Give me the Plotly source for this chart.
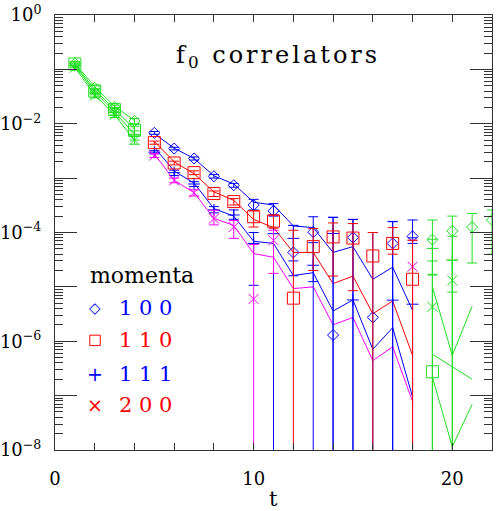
import plotly.graph_objects as go

# time slices
t_mid = [5, 6, 7, 8, 9, 10, 11, 12, 13, 14, 15, 16, 17, 18]
t_green = [1, 2, 3, 4, 19, 20, 21, 22]
t_green_late = [19, 20, 21]

# momentum 1 0 0 (blue diamonds)
p100_y = [6.8e-3, 3.5e-3, 2.3e-3, 1.08e-3, 7.4e-4, 3.2e-4, 2.5e-4, 4.3e-5, 1.02e-4, 1.3e-6, 8.1e-5, 2.75e-6, 6.3e-5, 8.5e-5]
p100_hi = [7.2e-3, 3.7e-3, 2.45e-3, 1.17e-3, 8.0e-4, 4.07e-4, 3.4e-4, 1.35e-4, 1.95e-4, 1.9e-4, 1.74e-4, 1.0e-4, 1.58e-4, 1.7e-4]
p100_lo = [6.4e-3, 3.3e-3, 2.15e-3, 1.0e-3, 6.8e-4, 2.6e-4, 2.1e-4, 1.6e-5, 0, 0, 0, 0, 0, 6.3e-5]
p100_fit = [6.6e-3, 3.55e-3, 2.3e-3, 1.1e-3, 7.8e-4, 3.6e-4, 3.2e-4, 1.32e-4, 1.23e-4, 4.3e-5, 5.5e-5, 1.38e-5, 2.3e-5, 3.7e-6]

# momentum 1 1 0 (red squares)
p110_y = [4.5e-3, 1.9e-3, 1.26e-3, 5.2e-4, 3.7e-4, 1.95e-4, 1.62e-4, 6.2e-6, 5.5e-5, 8.3e-5, 7.9e-5, 3.7e-5, 6.3e-5, 1.38e-5]
p110_hi = [4.8e-3, 2.05e-3, 1.36e-3, 5.8e-4, 4.2e-4, 2.5e-4, 2.1e-4, 1.1e-4, 1.18e-4, 1.5e-4, 1.46e-4, 1.0e-4, 1.23e-4, 7.2e-5]
p110_lo = [4.2e-3, 1.75e-3, 1.16e-3, 4.6e-4, 3.2e-4, 1.26e-4, 1.2e-4, 0, 2.0e-5, 1.58e-5, 8.5e-6, 0, 4.0e-5, 0]
p110_fit = [4.7e-3, 2.0e-3, 1.2e-3, 5.6e-4, 3.9e-4, 1.74e-4, 1.23e-4, 4.3e-5, 4.3e-5, 1.15e-5, 1.58e-5, 3.2e-6, 5.5e-6, 5.5e-7]

# momentum 1 1 1 (blue pluses)
p111_y = [3.0e-3, 1.26e-3, 7.8e-4, 2.6e-4, 2.1e-4, 6.3e-5, 9.5e-5, 7.8e-5, 2.5e-5, 9.6e-5, 5.75e-6, None, 5.7e-6, 4.8e-6]
p111_hi = [3.2e-3, 1.4e-3, 8.6e-4, 3.0e-4, 2.6e-4, 1.0e-4, 2.0e-4, 1.35e-4, 6.5e-5, 1.9e-4, 1.74e-4, None, 1.6e-4, 8.0e-5]
p111_lo = [2.8e-3, 1.12e-3, 7.0e-4, 2.3e-4, 1.75e-4, 1.07e-5, 0, 3.0e-5, 1.25e-5, 0, 0, None, 0, 0]
p111_fit = [3.7e-3, 1.35e-3, 8.1e-4, 2.75e-4, 2.0e-4, 6.9e-5, 6.3e-5, 1.62e-5, 1.82e-5, 3.6e-6, 5.75e-6, 7.1e-7, 1.78e-6, 9.5e-8]

# momentum 2 0 0 (magenta crosses)
p200_y = [2.6e-3, 9.1e-4, 5.4e-4, 1.8e-4, 1.26e-4, 6.0e-6, 7.2e-5, None, None, None, None, None, None, 2.35e-5]
p200_hi = [2.8e-3, 1.0e-3, 6.1e-4, 2.57e-4, 1.66e-4, 6.0e-5, 1.1e-4, None, None, None, None, None, None, 7.2e-5]
p200_lo = [2.4e-3, 8.2e-4, 4.7e-4, 1.38e-4, 7.8e-5, 0, 1.77e-5, None, None, None, None, None, None, 0]
p200_fit = [2.8e-3, 9.1e-4, 5.4e-4, 1.82e-4, 1.35e-4, 4.1e-5, 3.5e-5, 9.3e-6, 1.0e-5, 2.0e-6, 2.75e-6, 4.4e-7, 7.9e-7, 7.8e-8]

# green points (early and late slices)
g100_y = [1.29e-1, 4.6e-2, 2.04e-2, 1.12e-2, 7.4e-5, 1.07e-4, 1.26e-4, 1.7e-4]
g100_hi = [1.4e-1, 5.0e-2, 2.2e-2, 1.25e-2, 1.7e-4, 2.0e-4, 2.24e-4, 2.6e-4]
g100_lo = [1.2e-1, 4.3e-2, 1.9e-2, 1.0e-2, 0, 0, 2.75e-5, 4.0e-5]
g110_y = [1.26e-1, 4.0e-2, 1.82e-2, 7.6e-3, 2.75e-7, None, None, None]
g110_hi = [1.36e-1, 4.4e-2, 2.0e-2, 9.0e-3, 1.7e-5, None, None, None]
g110_lo = [1.16e-1, 3.6e-2, 1.65e-2, 6.4e-3, 0, None, None, None]
g111_y = [1.17e-1, 3.7e-2, 1.62e-2, 6.2e-3, 5.1e-5, 3.1e-5, None, None]
g111_hi = [1.27e-1, 4.0e-2, 1.8e-2, 7.4e-3, 7.5e-5, 8.5e-5, None, None]
g111_lo = [1.07e-1, 3.4e-2, 1.45e-2, 5.0e-3, 1.65e-5, 8.0e-6, None, None]
g200_y = [1.07e-1, 3.3e-2, 1.45e-2, 5.0e-3, 4.3e-6, 1.32e-5, None, None]
g200_hi = [1.15e-1, 3.6e-2, 1.6e-2, 5.8e-3, 3.0e-5, 3.1e-5, None, None]
g200_lo = [0.99e-1, 3.0e-2, 1.3e-2, 4.2e-3, 0, 0, None, None]

# green fit curves
gfit_early = [
    [1.3e-1, 4.8e-2, 2.1e-2, 1.15e-2],
    [1.25e-1, 4.2e-2, 1.85e-2, 8.0e-3],
    [1.18e-1, 3.8e-2, 1.65e-2, 6.4e-3],
    [1.08e-1, 3.4e-2, 1.45e-2, 5.0e-3],
]
gfit_late = [
    [1.0e-5, 5.5e-7, 4.4e-6],
    [5.75e-7, 3.4e-7, 2.0e-7],
    [2.2e-7, 1.15e-8, 6.9e-8],
]

BLUE = '#0000ff'
RED = '#ff0000'
MAG = '#ff00ff'
GREEN = '#22dd22'
FONT = 'DejaVu Serif'


def bars(y, hi, lo):
    up = [None if v is None else h - v for v, h in zip(y, hi)]
    dn = [None if v is None else v - l for v, l in zip(y, lo)]
    return up, dn


def points(x, y, hi, lo, color, symbol, size):
    up, dn = bars(y, hi, lo)
    return go.Scatter(
        x=x, y=y, mode='markers',
        marker=dict(symbol=symbol, size=size, color=color,
                    line=dict(color=color, width=1)),
        error_y=dict(type='data', symmetric=False, array=up, arrayminus=dn,
                     color=color, thickness=1, width=5),
        hoverinfo='x+y')


def fitline(x, y, color):
    return go.Scatter(x=x, y=y, mode='lines',
                      line=dict(color=color, width=1), hoverinfo='skip')


fig = go.Figure()

for curve in gfit_early:
    fig.add_trace(fitline(t_green[:4], curve, GREEN))
for curve in gfit_late:
    fig.add_trace(fitline(t_green_late, curve, GREEN))

fig.add_trace(fitline(t_mid, p100_fit, BLUE))
fig.add_trace(fitline(t_mid, p110_fit, RED))
fig.add_trace(fitline(t_mid, p111_fit, BLUE))
fig.add_trace(fitline(t_mid, p200_fit, MAG))

fig.add_trace(points(t_green, g100_y, g100_hi, g100_lo, GREEN, 'diamond-open', 8.5))
fig.add_trace(points(t_green, g110_y, g110_hi, g110_lo, GREEN, 'square-open', 12))
fig.add_trace(points(t_green, g111_y, g111_hi, g111_lo, GREEN, 'cross-thin', 8.5))
fig.add_trace(points(t_green, g200_y, g200_hi, g200_lo, GREEN, 'x-thin', 10))

fig.add_trace(points(t_mid, p100_y, p100_hi, p100_lo, BLUE, 'diamond-open', 8.5))
fig.add_trace(points(t_mid, p111_y, p111_hi, p111_lo, BLUE, 'cross-thin', 8.5))
fig.add_trace(points(t_mid, p200_y, p200_hi, p200_lo, MAG, 'x-thin', 10))
fig.add_trace(points(t_mid, p110_y, p110_hi, p110_lo, RED, 'square-open', 12))

# y ticks: every decade, labels on even decades
ydec = [1, 1e-1, 1e-2, 1e-3, 1e-4, 1e-5, 1e-6, 1e-7, 1e-8]
ylab = ['10<sup>0</sup>', '', '10<sup>\u22122</sup>', '', '10<sup>\u22124</sup>', '',
        '10<sup>\u22126</sup>', '', '10<sup>\u22128</sup>']
yminor = [m * 10.0 ** e for e in range(-8, 0) for m in range(2, 10)]

xt = list(range(0, 23, 2))
xlab = ['0', '', '', '', '', '10', '', '', '', '', '20', '']

fig.update_xaxes(
    range=[0, 22], tickvals=xt, ticktext=xlab, ticks='inside', ticklen=7,
    tickcolor='#333', showline=True, linecolor='#333', linewidth=1, mirror='ticks',
    showgrid=False, zeroline=False, ticklabelstandoff=12, automargin=False,
    tickfont=dict(family=FONT, size=18, color='black'))

fig.update_yaxes(
    type='log', range=[-8, 0], tickvals=ydec, ticktext=ylab, ticks='inside', ticklen=22,
    tickcolor='#333', showline=True, linecolor='#333', linewidth=1, mirror='ticks',
    showgrid=False, zeroline=False, ticklabelstandoff=9, automargin=False,
    tickfont=dict(family=FONT, size=18, color='black'),
    minor=dict(tickvals=yminor, ticks='inside', ticklen=8, tickcolor='#333', showgrid=False))

ann = [
    dict(text='<span style="letter-spacing:3px">f<sub>0</sub> correlators</span>',
         x=0.51, y=0.905, font=dict(size=24, color='black')),
    dict(text='t', x=0.501, y=-0.113, font=dict(size=21, color='black')),
    dict(text='momenta', x=0.0756, y=0.402, xanchor='left', font=dict(size=22, color='black')),
    dict(text='\u25c7', x=0.0916, y=0.326, font=dict(size=15, color=BLUE, family='DejaVu Sans')),
    dict(text='1 0 0', x=0.142, y=0.326, xanchor='left', font=dict(size=21, color=BLUE)),
    dict(text='1 1 0', x=0.142, y=0.252, xanchor='left', font=dict(size=21, color=RED)),
    dict(text='+', x=0.0916, y=0.175, font=dict(size=19, color=BLUE, family='DejaVu Sans')),
    dict(text='1 1 1', x=0.142, y=0.175, xanchor='left', font=dict(size=21, color=BLUE)),
    dict(text='\u00d7', x=0.0916, y=0.103, font=dict(size=19, color=RED, family='DejaVu Sans')),
    dict(text='2 0 0', x=0.142, y=0.103, xanchor='left', font=dict(size=21, color=RED)),
]
for a in ann:
    a.setdefault('xanchor', 'center')
    a.update(xref='paper', yref='paper', yanchor='middle', showarrow=False)
    a['font'].setdefault('family', FONT)

# legend key for the square symbol
fig.add_shape(type='rect', xref='paper', yref='paper',
              x0=0.0796, x1=0.1036, y0=0.240, y1=0.264,
              line=dict(color=RED, width=1), fillcolor='rgba(0,0,0,0)')

fig.update_layout(
    width=498, height=511,
    margin=dict(l=55, r=6, t=15, b=61),
    plot_bgcolor='white', paper_bgcolor='white',
    showlegend=False,
    font=dict(family=FONT, color='black'),
    annotations=ann)

# drop the default page margin so the figure fills the window exactly
fig.write_html("out.html", config={'displayModeBar': False},
               post_script="document.body.style.margin='0px';")
